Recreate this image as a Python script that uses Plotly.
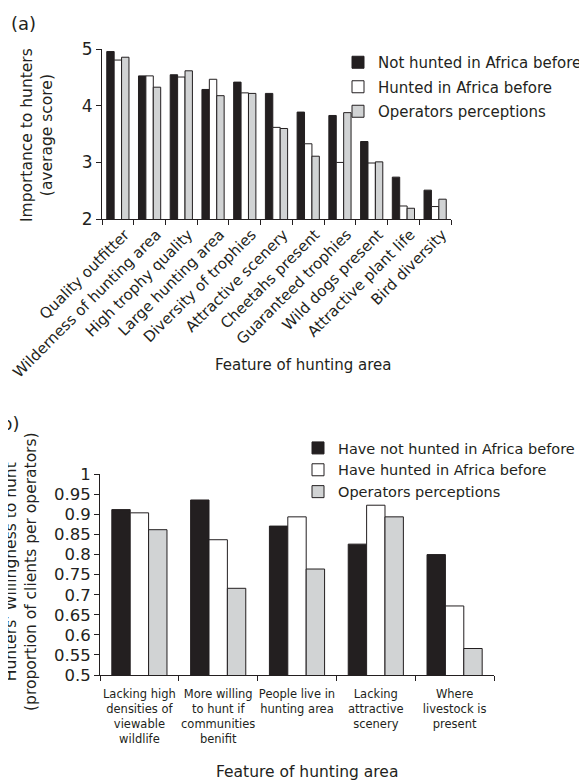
import plotly.graph_objects as go

W, H = 587, 782
OFF = 8  # page body margin of the browser: the figure is drawn 8px in from top-left

# ---------------- Data: panel (a) ----------------
features_a = ["Quality outfitter", "Wilderness of hunting area", "High trophy quality",
              "Large hunting area", "Diversity of trophies", "Attractive scenery",
              "Cheetahs present", "Guaranteed trophies", "Wild dogs present",
              "Attractive plant life", "Bird diversity"]
not_hunted_a = [4.96, 4.53, 4.55, 4.29, 4.42, 4.22, 3.89, 3.83, 3.37, 2.74, 2.51]
hunted_a     = [4.81, 4.53, 4.51, 4.47, 4.23, 3.62, 3.33, 3.00, 2.99, 2.23, 2.22]
operators_a  = [4.86, 4.33, 4.62, 4.18, 4.22, 3.60, 3.11, 3.88, 3.01, 2.19, 2.35]
names_a = ["Not hunted in Africa before", "Hunted in Africa before", "Operators perceptions"]

# ---------------- Data: panel (b) ----------------
features_b = ["Lacking high<br>densities of<br>viewable<br>wildlife",
              "More willing<br>to hunt if<br>communities<br>benifit",
              "People live in<br>hunting area",
              "Lacking<br>attractive<br>scenery",
              "Where<br>livestock is<br>present"]
not_hunted_b = [0.912, 0.936, 0.871, 0.826, 0.800]
hunted_b     = [0.904, 0.837, 0.894, 0.923, 0.672]
operators_b  = [0.862, 0.716, 0.764, 0.894, 0.566]
names_b = ["Have not hunted in Africa before", "Have hunted in Africa before", "Operators perceptions"]

ticks_b_vals = [0.5, 0.55, 0.6, 0.65, 0.7, 0.75, 0.8, 0.85, 0.9, 0.95, 1.0]
ticks_b_text = ["0.5", "0.55", "0.6", "0.65", "0.7", "0.75", "0.8", "0.85", "0.9", "0.95", "1"]

INK = "#231f20"
FILLS = [INK, "#ffffff", "#d1d3d4"]
FONT = "DejaVu Sans"


def px_x(x):
    return (x - OFF) / W


def px_y(y):
    return 1 - (y - OFF) / H


fig = go.Figure()

for i, (vals, nm) in enumerate(zip([not_hunted_a, hunted_a, operators_a], names_a)):
    fig.add_trace(go.Bar(
        x=features_a, y=vals, name=nm, xaxis="x", yaxis="y",
        marker=dict(color=FILLS[i], line=dict(color=INK, width=1)),
        legend="legend", legendgroup="a%d" % i, hoverinfo="x+y+name"))

for i, (vals, nm) in enumerate(zip([not_hunted_b, hunted_b, operators_b], names_b)):
    fig.add_trace(go.Bar(
        x=features_b, y=vals, name=nm, xaxis="x2", yaxis="y2",
        marker=dict(color=FILLS[i], line=dict(color=INK, width=1)),
        legend="legend2", hoverinfo="x+y+name"))

axis_common = dict(showline=True, linecolor=INK, linewidth=1, ticks="outside",
                   tickcolor=INK, ticklen=5, tickwidth=1, showgrid=False,
                   zeroline=False, automargin=False)

fig.update_layout(
    width=W, height=H,
    margin=dict(l=0, r=0, t=0, b=0, autoexpand=False),
    paper_bgcolor="white", plot_bgcolor="white",
    font=dict(family=FONT, color=INK),
    barmode="group", bargroupgap=0,
    bargap=0.3,
    showlegend=True,
    xaxis=dict(domain=[px_x(102), px_x(451)], anchor="y", type="category",
               tickson="boundaries", tickangle=-45, ticklabelshift=7,
               tickfont=dict(size=15, family=FONT, color=INK), **axis_common),
    yaxis=dict(domain=[px_y(219), px_y(49.3)], anchor="x", range=[2, 5],
               tickvals=[2, 3, 4, 5], ticktext=["2", "3", "4", "5"],
               tickfont=dict(size=17, family=FONT, color=INK), **axis_common),
    xaxis2=dict(domain=[px_x(100), px_x(494)], anchor="y2", type="category",
                tickson="boundaries", tickangle=0, ticklabelstandoff=8,
                tickfont=dict(size=11.5, family=FONT, color=INK), **axis_common),
    yaxis2=dict(domain=[px_y(675), px_y(474.3)], anchor="x2", range=[0.5, 1],
                tickvals=ticks_b_vals, ticktext=ticks_b_text,
                tickfont=dict(size=16.5, family=FONT, color=INK), **axis_common),
    legend=dict(x=px_x(338), y=px_y(46), xanchor="left", yanchor="top",
                xref="container", yref="container",
                font=dict(size=15, family=FONT, color=INK),
                bgcolor="rgba(0,0,0,0)", traceorder="grouped", tracegroupgap=2),
    legend2=dict(x=px_x(298), y=px_y(432), xanchor="left", yanchor="top",
                 xref="container", yref="container",
                 font=dict(size=14.5, family=FONT, color=INK),
                 bgcolor="rgba(0,0,0,0)", traceorder="normal"),
)

annotations = [
    dict(text="(a)", x=px_x(9), y=px_y(23), xanchor="left", yanchor="middle",
         font=dict(size=18)),
    dict(text="(b)", x=px_x(-8), y=px_y(423), xanchor="left", yanchor="middle",
         font=dict(size=18)),
    dict(text="Importance to hunters<br>(average score)", textangle=-90,
         x=px_x(37), y=px_y(135), xanchor="center", yanchor="middle",
         font=dict(size=15.5)),
    dict(text="Feature of hunting area", x=px_x(304), y=px_y(365),
         xanchor="center", yanchor="middle", font=dict(size=15)),
    dict(text="Hunters' Willingness to hunt<br>(proportion of clients per operators)",
         textangle=-90, x=px_x(21), y=px_y(572), xanchor="center", yanchor="middle",
         font=dict(size=15.5)),
    dict(text="Feature of hunting area", x=px_x(307), y=px_y(772),
         xanchor="center", yanchor="middle", font=dict(size=15.5)),
]
for a in annotations:
    a.update(xref="paper", yref="paper", showarrow=False)
    a["font"].update(family=FONT, color=INK)
fig.update_layout(annotations=annotations)

fig.write_html("out.html")
